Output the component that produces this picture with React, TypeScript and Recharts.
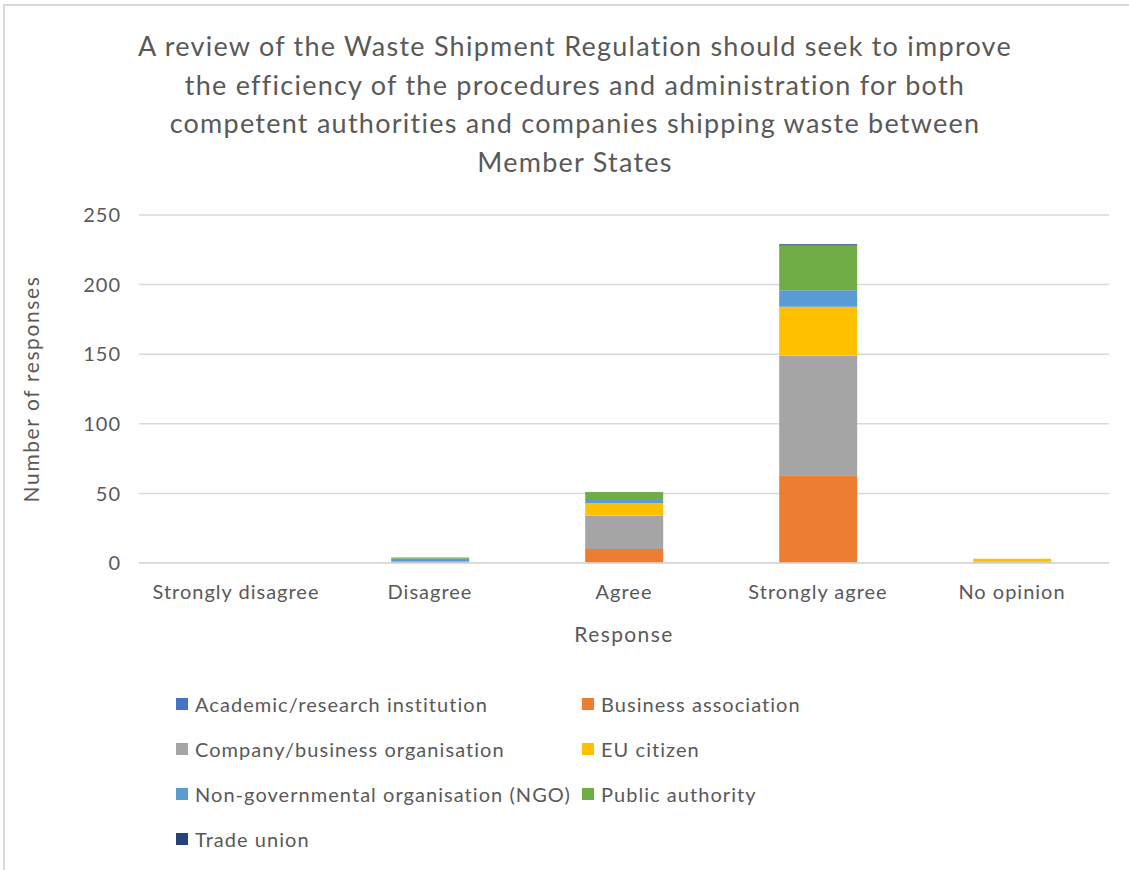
import { BarChart, Bar, XAxis, YAxis, CartesianGrid } from 'recharts';

const categories = ['Strongly disagree', 'Disagree', 'Agree', 'Strongly agree', 'No opinion'];

const academic = [0, 0, 0, 0, 0];
const business = [0, 0, 10, 63, 0];
const company = [0, 1, 24, 86, 1];
const euCitizen = [0, 0, 9, 35, 2];
const ngo = [0, 2, 3, 12, 0];
const publicAuthority = [0, 1, 5, 32, 0];
const tradeUnion = [0, 0, 0, 1, 0];

const yTicks = [0, 50, 100, 150, 200, 250];

const series = [
  { key: 'academic', name: 'Academic/research institution', color: '#4472C4', values: academic },
  { key: 'business', name: 'Business association', color: '#ED7D31', values: business },
  { key: 'company', name: 'Company/business organisation', color: '#A5A5A5', values: company },
  { key: 'eu', name: 'EU citizen', color: '#FFC000', values: euCitizen },
  { key: 'ngo', name: 'Non-governmental organisation (NGO)', color: '#5B9BD5', values: ngo },
  { key: 'public', name: 'Public authority', color: '#70AD47', values: publicAuthority },
  { key: 'union', name: 'Trade union', color: '#264478', values: tradeUnion },
];

const data = categories.map((response, i) => {
  const row: Record<string, string | number> = { response };
  series.forEach((s) => {
    row[s.key] = s.values[i];
  });
  return row;
});

const FONT = 'Lato, "Open Sans", sans-serif';
const TEXT = '#595959';

export default function App() {
  return (
    <div style={{ position: 'fixed', left: 0, top: 0, width: 1129, height: 870, background: '#fff', fontFamily: FONT, overflow: 'hidden' }}>
      {/* outer chart border */}
      <div style={{ position: 'absolute', left: 3, top: 4, width: 1140, height: 880, border: '2px solid #d9d9d9' }} />

      <div
        style={{
          position: 'absolute',
          left: 0,
          top: 27,
          width: 1150,
          textAlign: 'center',
          fontSize: 27,
          letterSpacing: 1.25,
          lineHeight: '38.5px',
          color: TEXT,
        }}
      >
        A review of the Waste Shipment Regulation should seek to improve
        <br />
        the efficiency of the procedures and administration for both
        <br />
        competent authorities and companies shipping waste between
        <br />
        Member States
      </div>

      <div style={{ position: 'absolute', left: 0, top: 0 }}>
        <BarChart
          width={1129}
          height={870}
          data={data}
          barCategoryGap="30%"
          margin={{ top: 215, right: 20, bottom: 227, left: 29 }}
        >
          <CartesianGrid vertical={false} stroke="#d9d9d9" strokeWidth={1.5} />
          <XAxis
            dataKey="response"
            height={80}
            axisLine={{ stroke: '#d9d9d9', strokeWidth: 1.5 }}
            tickLine={false}
            tickSize={0}
            tickMargin={22}
            tick={{ fill: TEXT, fontSize: 20, fontFamily: FONT, letterSpacing: 1 }}
            label={{ value: 'Response', position: 'insideBottom', offset: 1, fill: TEXT, fontSize: 21, fontFamily: FONT, letterSpacing: 1.4 }}
          />
          <YAxis
            width={110}
            domain={[0, 250]}
            ticks={yTicks}
            axisLine={false}
            tickLine={false}
            tickSize={0}
            tickMargin={18}
            tick={{ fill: TEXT, fontSize: 20, fontFamily: FONT, letterSpacing: 1 }}
            label={{ value: 'Number of responses', angle: -90, position: 'insideLeft', offset: 3, fill: TEXT, fontSize: 21, fontFamily: FONT, letterSpacing: 1.6, style: { textAnchor: 'middle' } }}
          />
          {series.map((s) => (
            <Bar key={s.key} dataKey={s.key} name={s.name} stackId="a" fill={s.color} isAnimationActive={false} />
          ))}
        </BarChart>
      </div>

      {/* legend */}
      <div
        style={{
          position: 'absolute',
          left: 176,
          top: 690,
          display: 'grid',
          gridTemplateColumns: '406px 300px',
          rowGap: 17,
          fontSize: 20,
          letterSpacing: 1.05,
          color: TEXT,
        }}
      >
        {series.map((s) => (
          <div key={s.key} style={{ display: 'flex', alignItems: 'center', height: 28, whiteSpace: 'nowrap' }}>
            <span style={{ display: 'inline-block', width: 12, height: 12, background: s.color, marginRight: 7 }} />
            {s.name}
          </div>
        ))}
      </div>
    </div>
  );
}
